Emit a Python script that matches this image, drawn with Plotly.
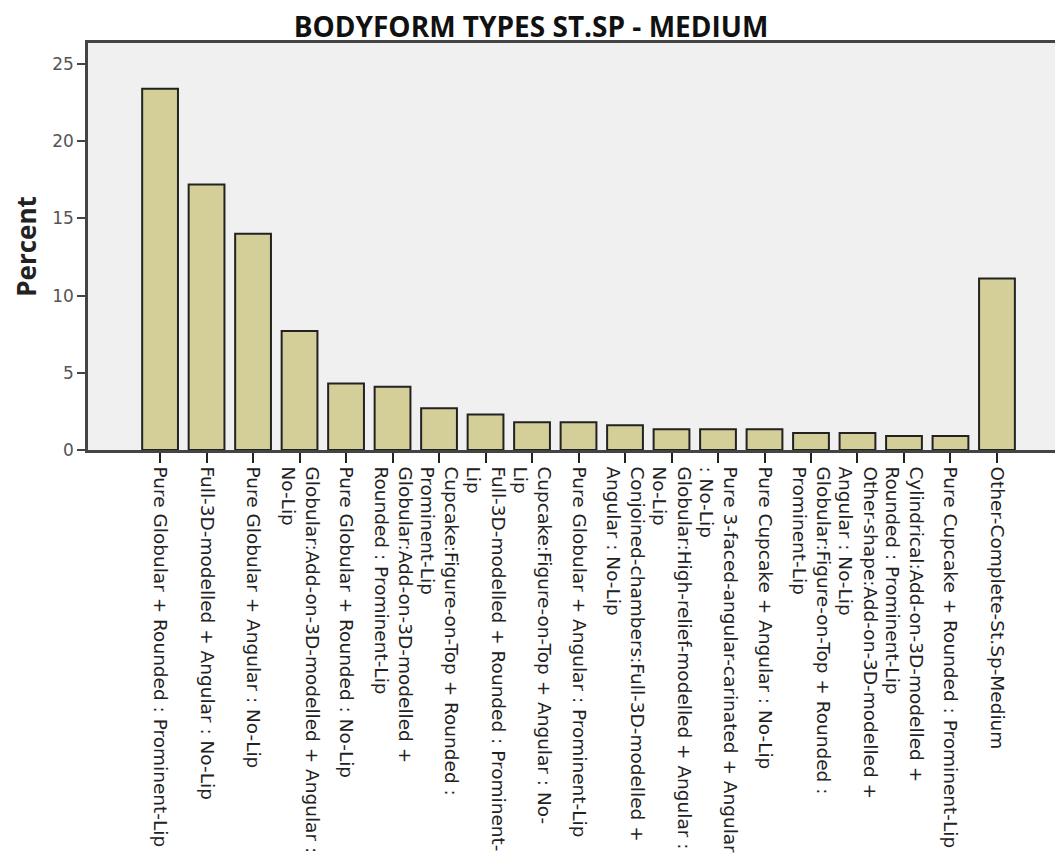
import plotly.graph_objects as go

# Bodyform types, St.Sp - Medium (percent of cases)
categories = [
    "Pure Globular + Rounded : Prominent-Lip",
    "Full-3D-modelled + Angular : No-Lip",
    "Pure Globular + Angular : No-Lip",
    "Globular:Add-on-3D-modelled + Angular :<br>No-Lip",
    "Pure Globular + Rounded : No-Lip",
    "Globular:Add-on-3D-modelled +<br>Rounded : Prominent-Lip",
    "Cupcake:Figure-on-Top + Rounded :<br>Prominent-Lip",
    "Full-3D-modelled + Rounded : Prominent-<br>Lip",
    "Cupcake:Figure-on-Top + Angular : No-<br>Lip",
    "Pure Globular + Angular : Prominent-Lip",
    "Conjoined-chambers:Full-3D-modelled +<br>Angular : No-Lip",
    "Globular:High-relief-modelled + Angular :<br>No-Lip",
    "Pure 3-faced-angular-carinated + Angular<br>: No-Lip",
    "Pure Cupcake + Angular : No-Lip",
    "Globular:Figure-on-Top + Rounded :<br>Prominent-Lip",
    "Other-shape:Add-on-3D-modelled +<br>Angular : No-Lip",
    "Cylindrical:Add-on-3D-modelled +<br>Rounded : Prominent-Lip",
    "Pure Cupcake + Rounded : Prominent-Lip",
    "Other-Complete-St.Sp-Medium",
]
percent = [23.4, 17.2, 14.0, 7.7, 4.3, 4.1, 2.7, 2.3, 1.8, 1.8,
           1.6, 1.35, 1.35, 1.35, 1.1, 1.1, 0.9, 0.9, 11.1]
y_ticks = [0, 5, 10, 15, 20, 25]

label_font = "'DejaVu Sans', sans-serif"
head_font = "'Open Sans', sans-serif"

fig = go.Figure(go.Bar(
    x=list(range(len(categories))),
    y=percent,
    marker=dict(color="#d4cf98", line=dict(color="#222", width=2)),
    width=0.77,
))

# page body adds an 8px margin, so the figure is a little smaller than the window
fig.update_layout(
    width=1055, height=860,
    margin=dict(l=80, r=0, t=35, b=418),
    paper_bgcolor="white",
    plot_bgcolor="#f0f0f0",
    showlegend=False,
    title=dict(text="<b>BODYFORM TYPES ST.SP - MEDIUM</b>",
               x=523 / 1055, xanchor="center",
               y=1 - 19 / 860, yanchor="middle", yref="container",
               font=dict(family=head_font, size=28, color="#111")),
)

fig.update_xaxes(
    tickmode="array", tickvals=list(range(len(categories))), ticktext=categories,
    tickangle=90, range=[-1.55, 19.42],
    ticks="outside", ticklen=10, tickwidth=2, tickcolor="#222",
    showline=True, linecolor="#444", linewidth=2.5, mirror=True,
    showgrid=False, zeroline=False,
    tickfont=dict(family=label_font, size=18.5, color="#222"),
    automargin=False,
)
fig.update_yaxes(
    range=[0, 26.36], tickvals=y_ticks,
    ticks="outside", ticklen=8, tickwidth=2, tickcolor="#444",
    showline=True, linecolor="#444", linewidth=2.5, mirror=False,
    showgrid=False, zeroline=False,
    tickfont=dict(family=label_font, size=17, color="#555"),
    title=dict(text="<b>Percent</b>", font=dict(family=head_font, size=26, color="#222"),
               standoff=12),
    automargin=False,
)

fig.write_html("out.html")
